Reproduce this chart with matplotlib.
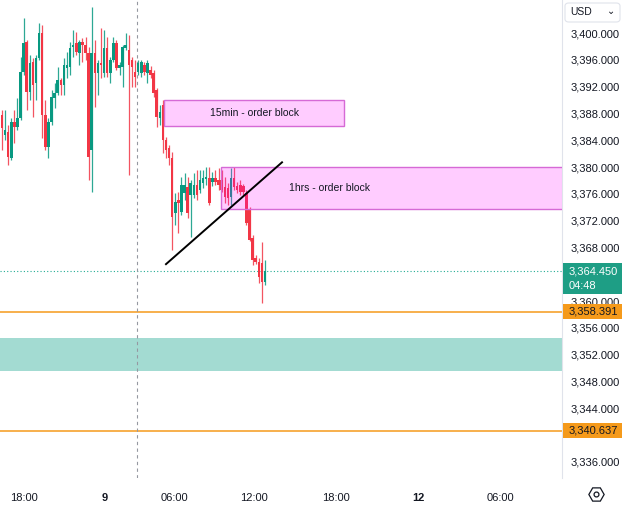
import matplotlib
matplotlib.use("Agg")
import matplotlib.pyplot as plt
import matplotlib.transforms as mtransforms
from matplotlib.patches import Rectangle, FancyBboxPatch
import numpy as np

# 15-minute candles (open, high, low, close)
OPENS = [3387.8, 3384.8, 3385.2, 3381.4, 3386.7, 3386.0, 3387.3, 3394.2, 3398.7, 3391.2,
         3395.7, 3392.5, 3396.3, 3400.0, 3387.8, 3383.0, 3386.7, 3390.3, 3391.0, 3393.0,
         3392.2, 3394.8, 3394.9, 3397.9, 3398.5, 3397.0, 3398.7, 3398.2, 3397.0, 3382.5,
         3397.0, 3394.0, 3395.5, 3394.0, 3397.8, 3394.0, 3396.0, 3398.5, 3394.8, 3394.9,
         3397.8, 3397.5, 3396.0, 3394.2, 3394.2, 3394.0, 3395.2, 3394.0, 3394.5, 3394.0,
         3391.5, 3387.3, 3389.3, 3384.0, 3382.8, 3381.4, 3373.1, 3375.1, 3373.3, 3376.1,
         3377.0, 3375.8, 3375.8, 3377.3, 3376.6, 3377.6, 3378.2, 3378.4, 3377.8, 3378.4,
         3378.1, 3378.1, 3377.0, 3376.9, 3375.5, 3378.4, 3377.2, 3377.3, 3377.2, 3376.1,
         3373.6, 3369.4, 3366.4, 3365.8, 3365.7, 3362.8]
HIGHS = [3388.5, 3388.5, 3386.3, 3387.3, 3388.5, 3390.3, 3396.4, 3402.2, 3399.0, 3396.7,
         3396.3, 3396.7, 3401.5, 3401.2, 3390.0, 3387.3, 3391.5, 3392.5, 3394.9, 3393.3,
         3396.3, 3397.2, 3398.7, 3400.5, 3400.2, 3399.0, 3399.3, 3399.4, 3397.9, 3403.9,
         3399.0, 3396.0, 3400.8, 3400.5, 3399.4, 3396.4, 3399.4, 3399.0, 3395.7, 3398.2,
         3400.0, 3399.7, 3396.4, 3396.0, 3396.0, 3396.0, 3395.7, 3396.0, 3395.1, 3394.5,
         3391.8, 3389.3, 3390.0, 3384.5, 3383.3, 3382.2, 3376.1, 3376.3, 3378.5, 3379.1,
         3378.5, 3378.1, 3379.1, 3379.6, 3379.6, 3379.6, 3380.0, 3380.0, 3379.3, 3379.6,
         3379.9, 3379.6, 3378.5, 3377.6, 3379.9, 3380.0, 3377.8, 3378.1, 3377.5, 3376.6,
         3374.0, 3369.9, 3366.8, 3366.4, 3368.8, 3366.1]
LOWS = [3382.5, 3384.0, 3380.3, 3381.0, 3383.6, 3385.5, 3387.0, 3393.7, 3388.5, 3390.0,
        3387.5, 3390.0, 3396.0, 3384.3, 3382.5, 3381.4, 3386.3, 3388.8, 3390.8, 3390.8,
        3390.8, 3393.3, 3393.7, 3396.4, 3396.7, 3395.2, 3395.7, 3396.0, 3378.1, 3376.3,
        3389.0, 3390.8, 3393.3, 3393.4, 3393.4, 3392.5, 3395.7, 3394.5, 3393.7, 3392.0,
        3397.5, 3378.8, 3392.0, 3392.0, 3393.7, 3393.4, 3393.7, 3392.5, 3393.3, 3390.5,
        3386.0, 3386.3, 3382.1, 3381.4, 3380.3, 3367.6, 3371.4, 3370.2, 3372.8, 3375.1,
        3372.4, 3369.5, 3375.4, 3375.1, 3376.1, 3376.9, 3377.3, 3374.3, 3377.2, 3377.3,
        3376.6, 3376.3, 3374.6, 3374.3, 3374.3, 3376.6, 3376.1, 3375.8, 3375.8, 3371.4,
        3368.9, 3365.4, 3365.5, 3362.7, 3359.7, 3362.4]
CLOSES = [3385.8, 3385.5, 3381.5, 3386.7, 3386.0, 3387.3, 3394.2, 3398.5, 3391.2, 3395.5,
          3392.2, 3396.3, 3400.0, 3387.8, 3383.0, 3386.7, 3390.5, 3391.0, 3393.0, 3392.2,
          3395.2, 3395.2, 3397.8, 3398.2, 3397.2, 3398.7, 3398.2, 3397.0, 3381.5, 3397.0,
          3394.0, 3395.5, 3395.2, 3397.8, 3394.0, 3396.0, 3398.5, 3394.8, 3395.2, 3397.9,
          3398.2, 3395.2, 3394.9, 3393.4, 3395.5, 3395.7, 3394.2, 3395.5, 3393.7, 3391.0,
          3387.5, 3388.2, 3384.0, 3382.5, 3381.4, 3372.5, 3374.8, 3374.6, 3377.3, 3377.3,
          3373.1, 3377.6, 3377.3, 3375.8, 3378.1, 3378.4, 3378.5, 3374.6, 3378.4, 3377.8,
          3377.3, 3376.6, 3375.5, 3375.4, 3378.4, 3377.0, 3376.6, 3376.3, 3376.3, 3371.6,
          3369.1, 3366.1, 3365.8, 3363.6, 3362.8, 3364.45]

PRICE_TICKS = [3336, 3340, 3344, 3348, 3352, 3356, 3360, 3364, 3368, 3372,
               3376, 3380, 3384, 3388, 3392, 3396, 3400]
HIDDEN_TICKS = [3340, 3364]  # covered by the price labels in the original
TIME_LABELS = ["18:00", "9", "06:00", "12:00", "18:00", "12", "06:00"]
TIME_POS = [7.1, 33.3, 55.6, 81.4, 108.0, 134.5, 161.0]

LAST_PRICE = 3364.450
COUNTDOWN = "04:48"
LEVELS = [3358.391, 3340.637]
DEMAND_ZONE = (3349.6, 3354.5)
OB_15MIN = (52.4, 110.5, 3386.1, 3390.0)
OB_1H = (70.8, 182.0, 3373.7, 3380.0)
TREND = ([53.0, 90.5], [3365.5, 3380.7])
SESSION_X = 43.6

UP = "#089981"
DOWN = "#f23645"
ORANGE = "#f59a1b"
TXT = "#131722"

plt.rcParams["font.family"] = ["Liberation Sans", "DejaVu Sans"]

fig = plt.figure(figsize=(6.25, 5.08), dpi=100)
ax = fig.add_axes([0, 30 / 508, 562 / 625, 478 / 508])

o = np.array(OPENS)
h = np.array(HIGHS)
l = np.array(LOWS)
c = np.array(CLOSES)
x = np.arange(len(o))
cols = np.where(c >= o, UP, DOWN)

ax.vlines(x, l, h, colors=cols, linewidth=0.9, alpha=0.85, zorder=3)
body = np.maximum(np.abs(c - o), 0.2)
ax.bar(x, body, bottom=np.minimum(o, c), width=0.82, color=cols, linewidth=0, zorder=4)

# zones and levels
ax.axhspan(*DEMAND_ZONE, color="#a3dbd2", zorder=1, linewidth=0)
for lev in LEVELS:
    ax.axhline(lev, color=ORANGE, linewidth=1.1, zorder=2)
ax.axhline(LAST_PRICE, color="#22ab94", linewidth=0.8, linestyle=(0, (1, 2)), zorder=2)
ax.axvline(SESSION_X, color="#9598a1", linewidth=0.8, linestyle=(0, (3, 3)), zorder=2)

for (x0, x1, y0, y1), label, tx in [(OB_15MIN, "15min - order block", None),
                                    (OB_1H, "1hrs - order block", 106.0)]:
    ax.add_patch(Rectangle((x0, y0), x1 - x0, y1 - y0, facecolor="#ff00ff", alpha=0.2,
                           edgecolor="none", zorder=5))
    ax.add_patch(Rectangle((x0, y0), x1 - x0, y1 - y0, facecolor="none",
                           edgecolor="#d66ad6", linewidth=1.0, zorder=5))
    ax.text(tx if tx else (x0 + x1) / 2, (y0 + y1) / 2, label, ha="center", va="center",
            fontsize=7.5, color=TXT, zorder=6)

ax.plot(TREND[0], TREND[1], color="black", linewidth=1.4, zorder=6)

ax.set_xlim(-0.65, 181)
ax.set_ylim(3333.58, 3404.93)

for s in ["top", "left", "bottom"]:
    ax.spines[s].set_visible(False)
ax.spines["right"].set_color("#e0e3eb")

ax.yaxis.tick_right()
ax.set_yticks(PRICE_TICKS)
ax.set_yticklabels(["" if p in HIDDEN_TICKS else f"{p:,.3f}" for p in PRICE_TICKS])
ax.tick_params(axis="y", length=0, pad=6, labelsize=8, labelcolor=TXT)

ax.set_xticks(TIME_POS)
ax.set_xticklabels(TIME_LABELS)
ax.tick_params(axis="x", length=0, pad=11, labelsize=8, labelcolor=TXT)
for t in ax.get_xticklabels():
    if t.get_text() in ("9", "12"):
        t.set_fontweight("bold")

# price labels on the scale
scale = mtransforms.blended_transform_factory(ax.transAxes, ax.transData)
px = 6.7  # pixels per price unit on this scale
box_x0, box_w = 1.0018, 59 / 562
ax.add_patch(Rectangle((box_x0, LAST_PRICE - 23 / px), box_w, 31 / px, transform=scale,
                       facecolor="#1e9e85", edgecolor="none", clip_on=False, zorder=10))
ax.text(box_x0 + 6 / 562, LAST_PRICE, f"{LAST_PRICE:,.3f}", transform=scale, ha="left",
        va="center", fontsize=8, color="white", zorder=11, clip_on=False)
ax.text(box_x0 + 6 / 562, LAST_PRICE - 14.5 / px, COUNTDOWN, transform=scale, ha="left",
        va="center", fontsize=8, color="white", zorder=11, clip_on=False)
for lev in LEVELS:
    ax.add_patch(Rectangle((box_x0, lev - 7.5 / px), box_w, 15 / px, transform=scale,
                           facecolor=ORANGE, edgecolor="none", clip_on=False, zorder=10))
    ax.text(box_x0 + 6 / 562, lev, f"{lev:,.3f}", transform=scale, ha="left", va="center",
            fontsize=8, color=TXT, zorder=11, clip_on=False)

fig.patches.append(FancyBboxPatch((565 / 625, 1 - 22 / 508), 55 / 625, 19 / 508,
                                  boxstyle="round,pad=0,rounding_size=0.006",
                                  facecolor="white", edgecolor="#e0e3eb", linewidth=0.8,
                                  transform=fig.transFigure))
fig.text(570 / 625, 1 - 12 / 508, "USD", fontsize=7.5, color=TXT, va="center", ha="left")
fig.text(611 / 625, 1 - 11 / 508, "⌄", fontsize=7, color=TXT, va="center", ha="center",
         family="DejaVu Sans")
fig.lines.append(plt.Line2D([596 / 625], [1 - 494 / 508], marker="H", markersize=11,
                            markerfacecolor="none", markeredgecolor=TXT, markeredgewidth=0.9,
                            transform=fig.transFigure))
fig.lines.append(plt.Line2D([596 / 625], [1 - 494 / 508], marker="o", markersize=3.5,
                            markerfacecolor="none", markeredgecolor=TXT, markeredgewidth=0.9,
                            transform=fig.transFigure))

fig.savefig("out.png", dpi=100)
plt.close(fig)
